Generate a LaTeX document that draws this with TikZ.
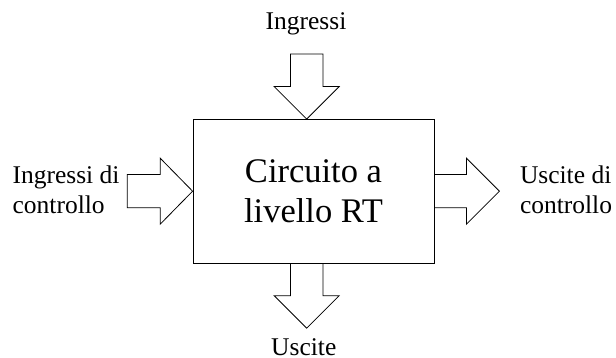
\documentclass[tikz,border=0pt]{standalone}
\usepackage{fontspec}
\setmainfont{Liberation Serif}
\begin{document}
\begin{tikzpicture}[x=1pt,y=-1pt,line width=0.8pt,
  lbl/.style={inner sep=0pt,font=\fontsize{25.5}{30.5}\selectfont},
  blk/.style={draw,line join=miter}]
\useasboundingbox (0,0) rectangle (616,358);
\node[draw,minimum width=241pt,minimum height=143.5pt,inner sep=0pt,align=center,
  font=\fontsize{34.5}{40}\selectfont] (circ) at (313.5,191.2) {Circuito a\\livello RT};
% top input arrow
\coordinate (tin) at ([xshift=-6.8pt]circ.north);
\draw[blk] (tin) -- ++(-32.5,-32.5) -- ++(16.25,0) -- ++(0,-32.6) -- ++(32.5,0)
  -- ++(0,32.6) -- ++(16.25,0) -- cycle;
% bottom output arrow
\coordinate (bout) at ([xshift=-6.8pt]circ.south);
\draw[blk] (bout) ++(-16.25,0) -- ++(0,32.3) -- ++(-16.25,0) -- ++(32.5,32.5)
  -- ++(32.5,-32.5) -- ++(-16.25,0) -- ++(0,-32.3);
% left input arrow
\draw[blk] (circ.west) -- ++(-32.4,-33) -- ++(0,16.4) -- ++(-33,0) -- ++(0,33.2)
  -- ++(33,0) -- ++(0,16.4) -- cycle;
% right output arrow
\draw[blk] (circ.east) ++(0,-16.6) -- ++(32,0) -- ++(0,-16.4) -- ++(33,33)
  -- ++(-33,33) -- ++(0,-16.4) -- ++(-32,0);
% labels
\node[lbl,anchor=base] (ing) at (306,30) {Ingressi};
\node[lbl,anchor=base] (usc) at (303.8,355.5) {Uscite};
\node[lbl,anchor=base west,align=left] (ingc) at (12.2,213.8) {Ingressi di\\controllo};
\node[lbl,anchor=base west,align=left] (uscc) at (519.6,213.8) {Uscite di\\controllo};
\end{tikzpicture}
\end{document}
